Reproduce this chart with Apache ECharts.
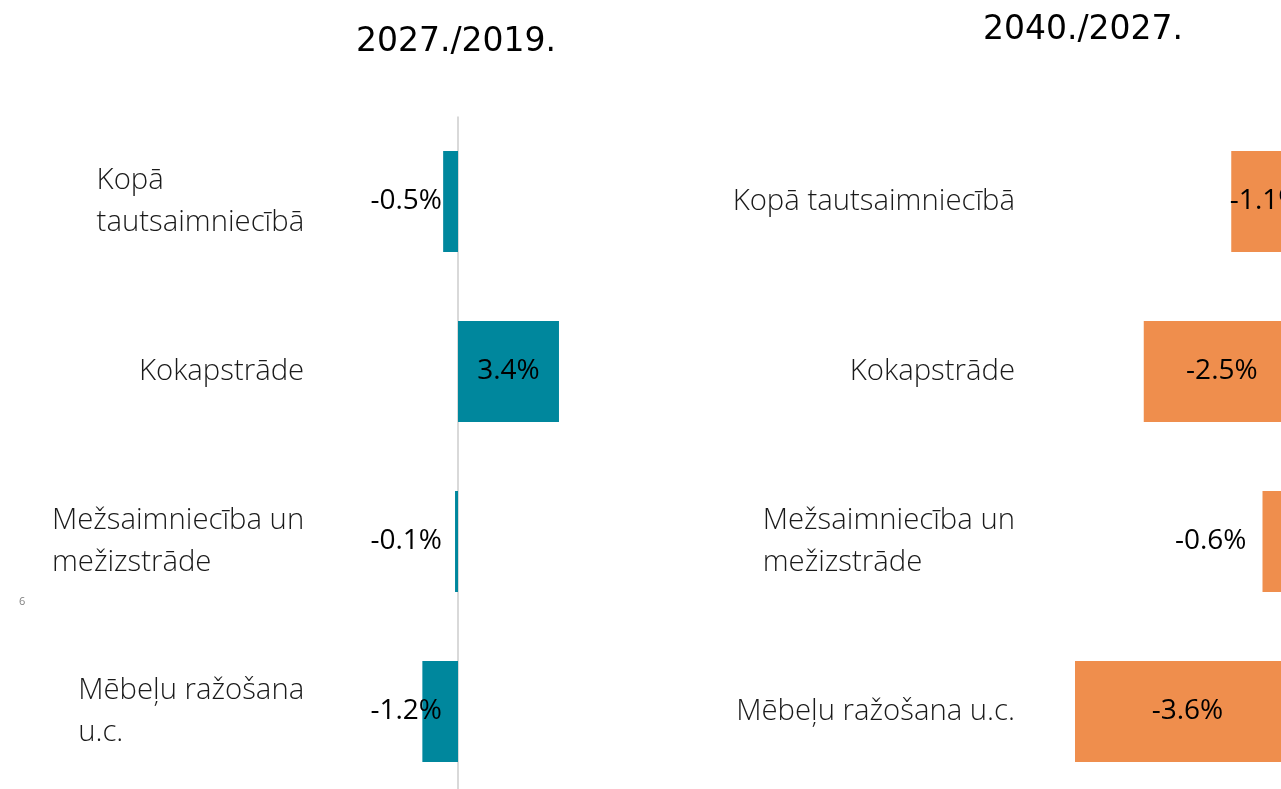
<!DOCTYPE html>
<html>
<head>
<meta charset="utf-8">
<script src="https://cdn.jsdelivr.net/npm/echarts@6/dist/echarts.min.js"></script>
<style>
html,body{margin:0;padding:0;background:#fff;}
#chart{width:1281px;height:789px;}
</style>
</head>
<body>
<div id="chart"></div>
<script>
// ---- data ----
const categories = ['Kopā tautsaimniecībā', 'Kokapstrāde', 'Mežsaimniecība un mežizstrāde', 'Mēbeļu ražošana u.c.'];
const leftLabels = [['Kopā', 'tautsaimniecībā'], ['Kokapstrāde'], ['Mežsaimniecība un', 'mežizstrāde'], ['Mēbeļu ražošana', 'u.c.']];
const rightLabels = [['Kopā tautsaimniecībā'], ['Kokapstrāde'], ['Mežsaimniecība un', 'mežizstrāde'], ['Mēbeļu ražošana u.c.']];
const change2027 = [-0.5, 3.4, -0.1, -1.2];
const change2040 = [-1.1, -2.5, -0.6, -3.6];
const title1 = '2027./2019.';
const title2 = '2040./2027.';
const slideNumber = '6';

// ---- styles ----
const TEAL = '#00879D';
const ORANGE = '#EF8E4D';
const catFont = {fontFamily: 'Open Sans', fontWeight: 300, fontSize: 29.3, color: '#1a1a1a', lineHeight: 42};
const valFont = {fontFamily: 'Open Sans', fontWeight: 400, fontSize: 28, color: '#000'};

function richLabel(lines) {
  return lines.map(l => '{l|' + l + '}').join('\n');
}

const chart = echarts.init(document.getElementById('chart'), null, {renderer: 'canvas'});

const leftData = change2027.map(v => ({
  value: v,
  label: v < 0 ? {position: 'insideRight', distance: 16} : {position: 'inside'}
}));
const rightData = change2040.map(v => ({
  value: v,
  label: Math.abs(v) < 1 ? {position: 'left', distance: 16} : {position: 'inside'}
}));

const option = {
  animation: false,
  backgroundColor: '#fff',
  title: [
    {text: title1, left: 456, top: 26, textAlign: 'center', padding: 0,
     textStyle: {fontFamily: 'DejaVu Sans', fontWeight: 'normal', fontSize: 33, color: '#000'}},
    {text: title2, left: 1083, top: 14, textAlign: 'center', padding: 0,
     textStyle: {fontFamily: 'DejaVu Sans', fontWeight: 'normal', fontSize: 33, color: '#000'}},
    {text: slideNumber, left: 19, top: 596, padding: 0,
     textStyle: {fontFamily: 'Open Sans', fontWeight: 'normal', fontSize: 11, color: '#808080'}}
  ],
  grid: [
    {left: 339.2, top: 116.5, width: 237.6, height: 680, containLabel: false, outerBoundsMode: 'none'},
    {left: 1050, top: 116.5, width: 250, height: 680, containLabel: false, outerBoundsMode: 'none'}
  ],
  xAxis: [
    {gridIndex: 0, type: 'value', min: -4, max: 4, interval: 4,
     axisLabel: {show: false}, axisTick: {show: false}, axisLine: {show: false},
     splitLine: {show: true, showMinLine: false, showMaxLine: false, lineStyle: {color: '#D9D9D9', width: 2}}},
    {gridIndex: 1, type: 'value', min: -4, max: 0, interval: 4,
     axisLabel: {show: false}, axisTick: {show: false}, axisLine: {show: false},
     splitLine: {show: false}}
  ],
  yAxis: [
    {gridIndex: 0, type: 'category', data: categories, inverse: true,
     axisLine: {show: false, onZero: false}, axisTick: {show: false}, splitLine: {show: false},
     axisLabel: {margin: 35, formatter: (val, i) => richLabel(leftLabels[i]),
       rich: {l: Object.assign({align: 'left'}, catFont)}}},
    {gridIndex: 1, type: 'category', data: categories, inverse: true,
     axisLine: {show: false, onZero: false}, axisTick: {show: false}, splitLine: {show: false},
     axisLabel: {margin: 35, formatter: (val, i) => richLabel(rightLabels[i]),
       rich: {l: Object.assign({align: 'left'}, catFont)}}}
  ],
  series: [
    {type: 'bar', xAxisIndex: 0, yAxisIndex: 0, data: leftData, barWidth: 101,
     itemStyle: {color: TEAL},
     label: Object.assign({show: true, formatter: p => p.value.toFixed(1) + '%'}, valFont)},
    {type: 'bar', xAxisIndex: 1, yAxisIndex: 1, data: rightData, barWidth: 101,
     itemStyle: {color: ORANGE},
     label: Object.assign({show: true, formatter: p => p.value.toFixed(1) + '%'}, valFont)}
  ]
};
chart.setOption(option);
</script>
</body>
</html>
